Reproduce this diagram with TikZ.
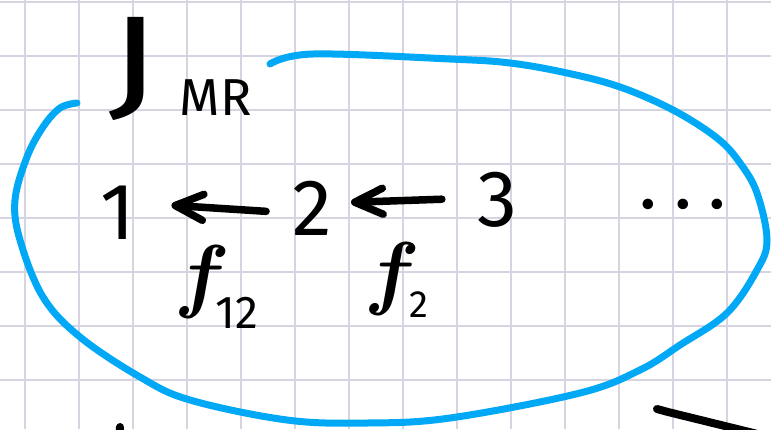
\RequirePackage{fix-cm}
\documentclass[tikz,border=0pt]{standalone}
\usepackage{fontspec}
\setmainfont{Fira Sans}
\usetikzlibrary{arrows.meta}
\definecolor{gridc}{RGB}{214,212,224}
\definecolor{loopblue}{RGB}{0,168,245}
\definecolor{ink}{RGB}{0,0,0}
\begin{document}
\begin{tikzpicture}[x=1pt,y=-1pt,
  gridline/.style={draw=gridc,line width=1.3pt},
  loopline/.style={draw=loopblue,line width=7pt,line cap=round,line join=round},
  stroke/.style={draw=ink,line width=8pt,line cap=round},
  digit/.style={inner sep=0pt,text=ink,font=\fontsize{80}{80}\selectfont},
  flabel/.style={inner sep=0pt,text=ink,anchor=base west,font=\fontsize{82}{82}\selectfont\boldmath},
  arr/.style={draw=ink,line width=7.5pt,line cap=round,-{Straight Barb[length=28pt,width=26pt,round]}}]
\useasboundingbox (0,0) rectangle (771,429);
\clip (0,0) rectangle (771,429);
\fill[white] (0,0) rectangle (771,429);
\foreach \x in {25,79,...,727} \draw[gridline] (\x,0) -- (\x,429);
\foreach \y in {2,56,...,380} \draw[gridline] (0,\y) -- (771,\y);

\draw[loopline] plot[smooth,tension=0.6] coordinates {(77,103) (60,108) (43,127) (27,157) (15,200) (20,240) (43,297) (80,337) (140,377) (190,400) (287,420) (367,423) (450,418) (580,393) (640,370) (680,345) (727,313) (757,270) (767,240) (757,193) (740,163) (717,138) (673,110) (620,87) (567,73) (510,63) (450,59) (313,54) (270,64)};

\node[inner sep=0pt,anchor=base west,text=ink] (jmr) at (108,103)
  {\fontsize{125}{125}\selectfont\scalebox{1.35}[1]{J}\hspace{20pt}\fontsize{52}{52}\selectfont\raisebox{-12pt}{MR}};

\node[digit] (n1) at (118,213) {1};
\node[digit] (n2) at (312,208) {2};
\node[digit] (n3) at (497,200) {3};
\node[inner sep=0pt,text=ink,font=\fontsize{68}{68}\selectfont\boldmath] (dots) at (683,205) {$\cdots$};

\draw[arr,shorten <=26pt,shorten >=36pt] ([yshift=-5pt]n2.west) -- ([yshift=10pt]n1.east);
\draw[arr,shorten <=35pt,shorten >=19pt] ([yshift=2pt]n3.west) -- ([yshift=5pt]n2.east);

\node[flabel] (f12) at (174,302) {$f$\hspace{-14pt}\raisebox{-26pt}{\fontsize{46}{46}\selectfont 12}};
\node[flabel] (f2) at (364,299) {$f$\hspace{-10pt}\raisebox{-18pt}{\fontsize{38}{38}\selectfont 2}};

\draw[stroke] (657,409) .. controls (662,411) .. (668,412) -- (790,442);
\draw[stroke] (120,427) -- (119,440);
\end{tikzpicture}
\end{document}
